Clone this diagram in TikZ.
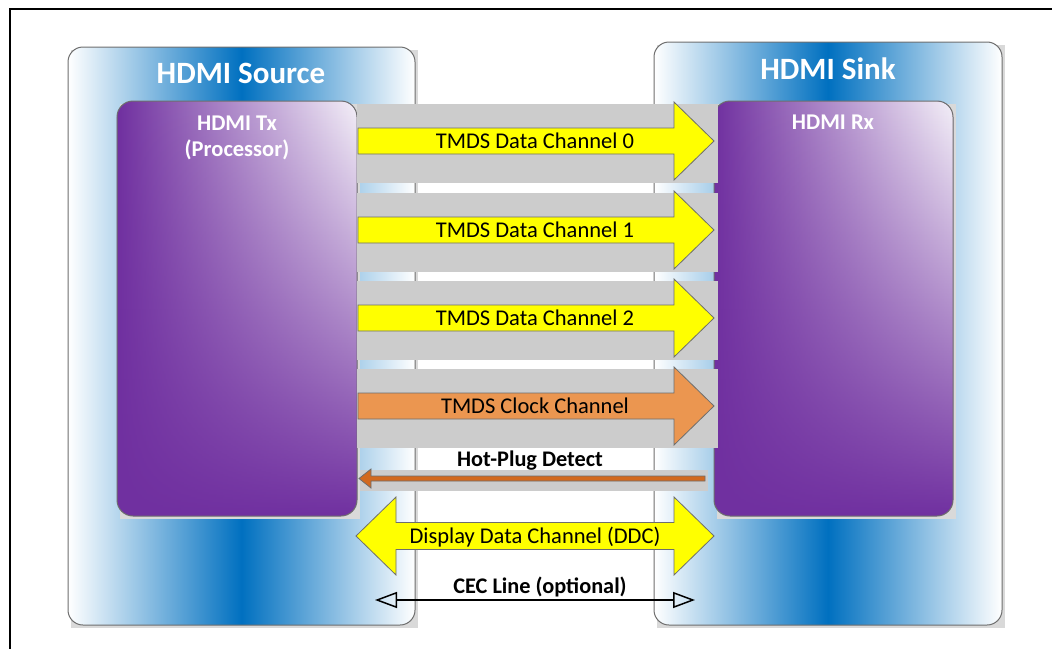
\documentclass[tikz,border=0pt]{standalone}
\usepackage{fontspec}
\setmainfont{Carlito}
\usetikzlibrary{arrows.meta,fadings}
\definecolor{hdmiblue}{HTML}{0070C0}
\definecolor{txpurple}{HTML}{7030A0}
\definecolor{txlight}{HTML}{F4F0F8}
\definecolor{chyellow}{HTML}{FFFF00}
\definecolor{clkorange}{HTML}{EB9650}
\definecolor{hpdorange}{HTML}{D2691E}
\definecolor{bandgray}{HTML}{CCCCCC}
\definecolor{edgegray}{HTML}{6E6E6E}
\tikzset{
  devbox/.style={draw=edgegray, line width=1pt, rounded corners=15pt,
    left color=white, right color=white, middle color=hdmiblue},
  chipbox/.style={fill=txpurple, rounded corners=16pt, inner sep=0pt, outer sep=0pt},
  chipshade/.style={rounded corners=16pt, left color=txpurple, right color=txlight, path fading=south},
  chipedge/.style={draw=edgegray, line width=1pt, rounded corners=16pt},
  shadowbox/.style={fill=bandgray!75},
  band/.style={fill=bandgray},
  blockarrow/.style={draw=edgegray, line width=0.8pt},
  title/.style={text=white, font=\bfseries\fontsize{31}{36}\selectfont, anchor=base},
  chiplabel/.style={text=white, font=\bfseries\fontsize{22.5}{27}\selectfont, anchor=base},
  chlabel/.style={font=\fontsize{22.5}{27}\selectfont, anchor=base},
  linelabel/.style={font=\bfseries\fontsize{22.3}{27}\selectfont, anchor=base},
}
\begin{document}
\begin{tikzpicture}[x=1pt,y=-1pt]
  \useasboundingbox (0,0) rectangle (1052,648);
  % frame
  \draw[line width=2.5pt] (10,650) -- (10,9) -- (1054,9);

  % source side
  \fill[shadowbox] (71,50) rectangle (418,628);
  \node[devbox, minimum width=347pt, minimum height=578pt] (source) at (241.5,336) {};
  \node[title] (sourcetitle) at (241,83) {HDMI Source};
  \fill[shadowbox] (120,104) rectangle (360,519);
  \node[chipbox, minimum width=240pt, minimum height=415pt] (tx) at (237,308.5) {};
  \shade[chipshade] (tx.south west) rectangle (tx.north east);
  \draw[chipedge] (tx.south west) rectangle (tx.north east);
  \node[chiplabel] (txlabel) at (237,130) {HDMI Tx};
  \node[chiplabel] (txproc) at (237,156) {(Processor)};

  % sink side
  \fill[shadowbox] (657,45) rectangle (1005,628);
  \node[devbox, minimum width=348pt, minimum height=583pt] (sink) at (828,333.5) {};
  \node[title] (sinktitle) at (828,79) {HDMI Sink};
  \fill[shadowbox] (717,104) rectangle (956,519);
  \node[chipbox, minimum width=239pt, minimum height=415pt] (rx) at (833.5,308.5) {};
  \shade[chipshade] (rx.south west) rectangle (rx.north east);
  \draw[chipedge] (rx.south west) rectangle (rx.north east);
  \node[chiplabel] (rxlabel) at (833,129) {HDMI Rx};

  % TMDS channels
  \foreach \yc/\txt/\col [count=\i] in {141/TMDS Data Channel 0/chyellow,
      230/TMDS Data Channel 1/chyellow, 318/TMDS Data Channel 2/chyellow,
      406/TMDS Clock Channel/clkorange} {
    \fill[band] (357,\yc-37) rectangle (718,\yc+42);
    \draw[blockarrow, fill=\col] (358,\yc-13) -- (674,\yc-13) -- (674,\yc-39)
      -- (714,\yc) -- (674,\yc+39) -- (674,\yc+13) -- (358,\yc+13) -- cycle;
    \node[chlabel] (ch\i) at (535,\yc+7) {\txt};
  }

  % hot-plug detect
  \node[linelabel] (hpd) at (530,466) {Hot-Plug Detect};
  \fill[band] (360,470) rectangle (708,491);
  \draw[blockarrow, fill=hpdorange] (705,476) -- (371,476) -- (371,469) -- (359,478.5)
    -- (371,488) -- (371,481) -- (705,481) -- cycle;

  % DDC
  \draw[blockarrow, fill=chyellow] (356,536) -- (396,497) -- (396,522.5) -- (674,522.5)
    -- (674,497) -- (714,536) -- (674,575) -- (674,549.5) -- (396,549.5) -- (396,575) -- cycle;
  \node[chlabel] (ddc) at (535,543) {Display Data Channel (DDC)};

  % CEC
  \node[linelabel] (cec) at (540,593) {CEC Line (optional)};
  \coordinate (cecL) at (375,600);
  \coordinate (cecR) at (695,600);
  \draw[line width=1.5pt, {Triangle[open,length=22pt,width=16pt]}-{Triangle[open,length=22pt,width=16pt]}] (cecL) -- (cecR);
\end{tikzpicture}
\end{document}
